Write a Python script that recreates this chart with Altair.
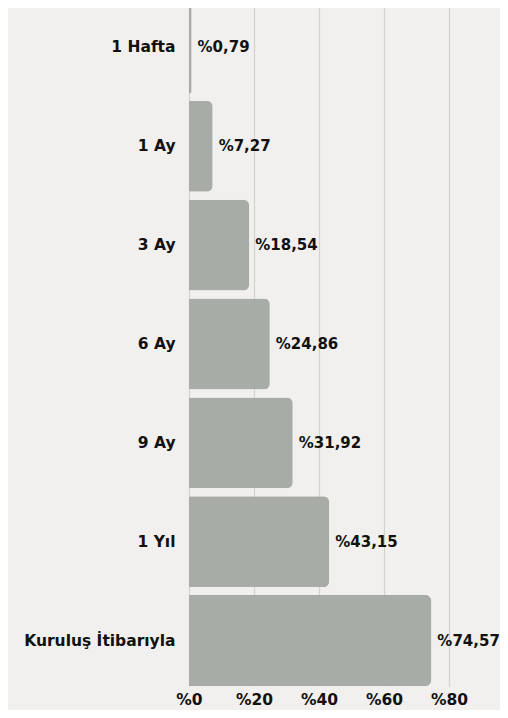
import altair as alt
import pandas as pd

categories = ["1 Hafta", "1 Ay", "3 Ay", "6 Ay", "9 Ay", "1 Yıl", "Kuruluş İtibarıyla"]
values = [0.79, 7.27, 18.54, 24.86, 31.92, 43.15, 74.57]
labels = ["%0,79", "%7,27", "%18,54", "%24,86", "%31,92", "%43,15", "%74,57"]

df = pd.DataFrame({"cat": categories, "val": values, "lab": labels})

FONT = "DejaVu Sans"
FS = 15.5
y_enc = alt.Y("cat:N", sort=categories, title=None,
              scale=alt.Scale(paddingInner=0.08, paddingOuter=0.0),
              axis=alt.Axis(domain=False, ticks=False, labelPadding=14,
                            labelFont=FONT, labelFontWeight="bold", labelFontSize=FS,
                            labelColor="#111111", grid=False, labelLimit=400))
x_enc = alt.X("val:Q", title=None, scale=alt.Scale(domain=[0, 80], nice=False),
              axis=alt.Axis(values=[0, 20, 40, 60, 80], labelExpr="'%' + datum.value",
                            domain=False, ticks=False, labelPadding=6, labelFlush=False,
                            labelFont=FONT, labelFontWeight="bold", labelFontSize=FS,
                            labelColor="#111111", grid=True, gridColor="#d2d2d0",
                            gridWidth=1.2))

bars = alt.Chart(df).mark_bar(color="#a8aca7", cornerRadiusEnd=6).encode(y=y_enc, x=x_enc)
text = alt.Chart(df).mark_text(align="left", baseline="middle", dx=6, font=FONT,
                               fontWeight="bold", fontSize=15, color="#111111").encode(
    y=alt.Y("cat:N", sort=categories), x="val:Q", text="lab:N")

chart = (bars + text).properties(
    width=260, height=684, background="#f1f0ee",
    autosize=alt.AutoSizeParams(type="none"),
    padding={"left": 181, "top": -6, "right": 51, "bottom": 24}
).configure_view(stroke=None)

chart.save("out.html", embed_options={"renderer": "svg", "actions": False})
